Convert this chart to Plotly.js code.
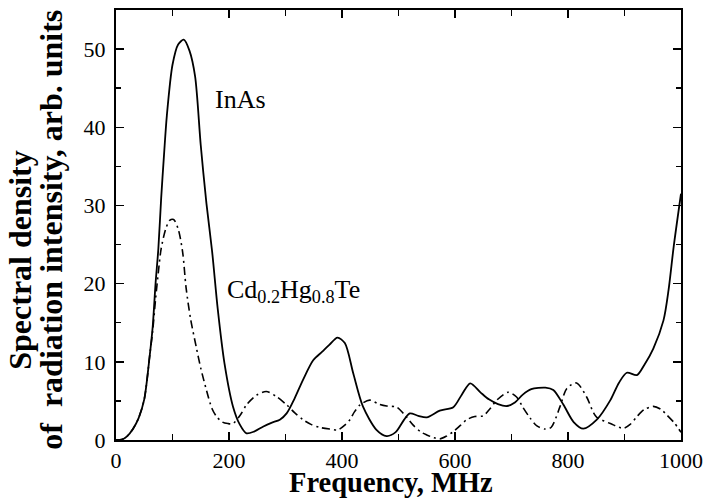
<!DOCTYPE html>
<html>
<head>
<meta charset="utf-8">
<script src="https://cdn.plot.ly/plotly-3.0.1.min.js"></script>
<style>html,body{margin:0;padding:0;background:#fff;}#chart{width:705px;height:498px;}</style>
</head>
<body>
<div id="chart"></div>
<script>
// InAs (solid line)
const inasFreq = [0,10,20,30,40,50,60,65,70,75,80,85,90,100,110,120,130,140,150,160,170,180,192,207,219,231,245,260,275,290,302,316,331,349,365,378,392,405,420,437,461,479,495,510,520,535,550,573,597,612,627,645,660,676,692,706,720,735,760,774,792,810,827,851,875,890,904,922,935,951,969,978,987,1000];
const inasValue = [0,0.05,0.5,1.4,2.8,5.2,11,14.5,20,24.5,31,36.5,41.5,48,50.6,51.2,49.8,46.5,37.7,30.3,24.2,16.8,9.8,4.3,2.0,0.85,1.1,1.7,2.2,2.6,3.4,5.3,7.7,10.2,11.3,12.2,13.1,12.4,8.5,4.3,1.3,0.5,1.0,2.6,3.4,3.1,2.9,3.75,4.2,5.8,7.25,6.1,5.2,4.6,4.35,4.8,5.8,6.5,6.7,6.4,4.5,2.3,1.45,2.6,5.1,7.3,8.6,8.3,9.6,11.7,15.3,19.2,24.7,31.5];

// Cd0.2Hg0.8Te (dash-dot line)
const cdFreq = [0,10,20,30,40,50,60,65,70,75,80,88,95,102,110,118,124,132,142,150,160,170,178,188,198,207,220,231,248,266,285,302,316,331,345,361,378,393,405,414,422,432,449,465,479,497,510,526,540,550,562,573,585,597,610,621,635,650,662,674,694,709,720,733,745,759,770,786,798,815,833,845,851,875,898,910,922,935,951,965,975,988,1000];
const cdValue = [0,0.05,0.5,1.4,2.8,5.2,11,14,18,21.5,24.5,27,28.1,28.2,27,24,19.5,15.5,11.9,9.2,6.4,4.0,3.0,2.3,2.1,2.1,3.2,4.5,5.7,6.2,5.5,4.5,3.5,2.6,2.0,1.6,1.4,1.3,1.9,2.6,3.6,4.5,5.1,4.6,4.35,4.2,3.3,1.9,1.0,0.65,0.3,0.13,0.5,1.06,1.9,2.6,3.0,3.1,4.0,5.1,6.1,5.5,4.2,2.8,1.8,1.4,1.6,4.3,6.6,7.3,5.5,3.5,2.9,2.1,1.5,2.0,3.0,3.9,4.3,3.9,3.2,2.2,1.0];

const xTickVals = [0,200,400,600,800,1000];
const yTickVals = [0,10,20,30,40,50];

const serif = "Liberation Serif";

const traces = [
  {x: inasFreq, y: inasValue, type: 'scatter', mode: 'lines',
   line: {color: '#000', width: 1.8, shape: 'spline', smoothing: 0.8}, name: 'InAs'},
  {x: cdFreq, y: cdValue, type: 'scatter', mode: 'lines',
   line: {color: '#000', width: 1.6, shape: 'spline', smoothing: 0.8, dash: '8px,4px,2px,4px'}, name: 'CdHgTe'}
];

const axisCommon = {
  showline: true, linewidth: 2, linecolor: '#000', mirror: 'ticks',
  ticks: 'inside', ticklen: 8, tickwidth: 1.5, tickcolor: '#000',
  showgrid: false, zeroline: false,
  tickfont: {family: serif, size: 22, color: '#000'}
};

const layout = {
  width: 705, height: 498,
  margin: {l: 116, r: 24, t: 10, b: 58},
  paper_bgcolor: '#fff', plot_bgcolor: '#fff',
  font: {family: serif, color: '#000'},
  showlegend: false,
  xaxis: Object.assign({}, axisCommon, {
    range: [0, 1000], tickmode: 'array', tickvals: xTickVals, ticktext: xTickVals.map(String),
    minor: {dtick: 100, tick0: 0, ticks: 'inside', ticklen: 6, tickwidth: 1.5, tickcolor: '#000'}
  }),
  yaxis: Object.assign({}, axisCommon, {
    range: [0, 55], tickmode: 'array', tickvals: yTickVals, ticktext: yTickVals.map(String),
    minor: {dtick: 5, tick0: 0, ticks: 'inside', ticklen: 5, tickwidth: 1.5, tickcolor: '#000'},
    ticklabelstandoff: 4
  }),
  annotations: [
    {text: 'InAs', x: 221, y: 43.5, xref: 'x', yref: 'y', showarrow: false,
     font: {family: serif, size: 26, color: '#000'}},
    {text: 'Cd<sub>0.2</sub>Hg<sub>0.8</sub>Te', x: 315, y: 19.0, xref: 'x', yref: 'y', showarrow: false,
     font: {family: serif, size: 26, color: '#000'}},
    {text: '<b>Frequency, MHz</b>', x: 0.486, y: -0.098, xref: 'paper', yref: 'paper',
     xanchor: 'center', yanchor: 'middle', showarrow: false,
     font: {family: serif, size: 28.5, color: '#000'}},
    {text: '<b>Spectral density</b>', textangle: -90, x: -0.170, y: 0.419, xref: 'paper', yref: 'paper',
     xanchor: 'center', yanchor: 'middle', showarrow: false,
     font: {family: serif, size: 32, color: '#000'}},
    {text: '<b>of  radiation intensity, arb. units</b>', textangle: -90, x: -0.114, y: 0.488, xref: 'paper', yref: 'paper',
     xanchor: 'center', yanchor: 'middle', showarrow: false,
     font: {family: serif, size: 32, color: '#000'}}
  ]
};

Plotly.newPlot('chart', traces, layout, {staticPlot: true, displayModeBar: false});
</script>
</body>
</html>
